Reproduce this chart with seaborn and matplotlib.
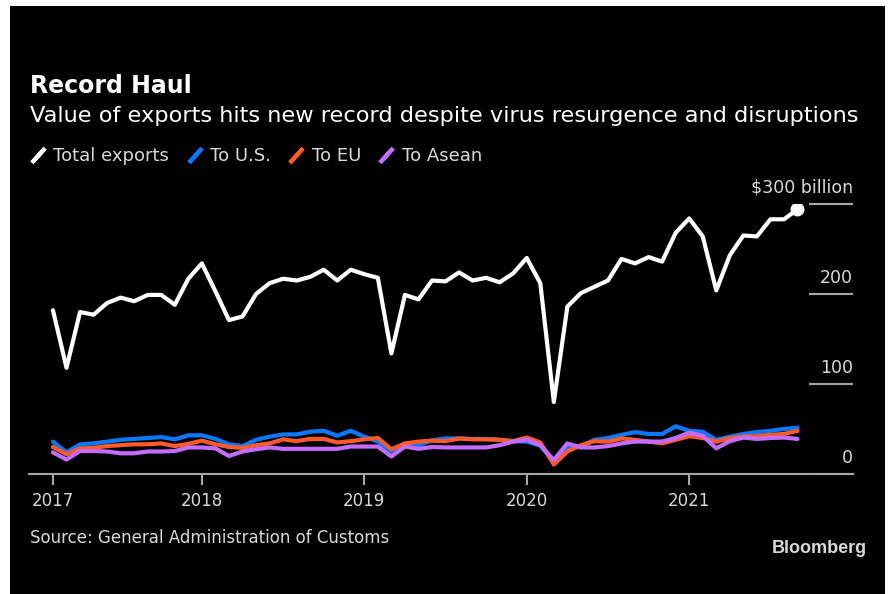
"""
Record Haul: China's monthly exports, total and by destination (Bloomberg style).
"""
import numpy as np
import pandas as pd
import matplotlib
matplotlib.use("Agg")
import matplotlib.pyplot as plt
from matplotlib.lines import Line2D
from matplotlib.patches import Rectangle
import seaborn as sns

# monthly values, Jan 2017 - Aug 2021, $ billion
total_exports = [182, 118, 180, 177, 190, 196, 192, 199, 199, 188, 217, 234,
                 203, 171, 175, 200, 212, 217, 215, 219, 227, 215, 227, 222,
                 218, 134, 199, 194, 215, 214, 224, 215, 218, 213, 223, 240,
                 212, 80, 186, 201, 208, 215, 239, 234, 241, 236, 268, 284,
                 264, 204, 243, 265, 264, 283, 283, 294]
to_us = [36, 24, 33, 34, 36, 38, 39, 40, 41, 38.5, 43, 43, 39, 33, 31,
         38, 41.5, 44, 44, 47, 48, 42.5, 48, 41.5, 36, 25, 33, 32, 37.5,
         39.5, 39.5, 39, 39, 38, 36.5, 36, 31.5, 14, 28.5, 30.5, 38, 40, 43.5,
         46.5, 44.5, 44.5, 53, 48, 47, 38, 41.5, 44.5, 46.5, 48, 50, 51.5]
to_eu = [30, 22, 28.5, 29, 31, 32, 33, 33, 34, 31, 33.5, 37, 33, 30, 29,
         32, 34, 38.5, 36.5, 39, 39, 35, 36.5, 38.5, 40, 27.5, 34, 36, 37,
         36.5, 39.5, 38.5, 38.5, 38, 36.5, 40.5, 35, 10.5, 25, 32, 36.5, 36, 39.5,
         38, 36, 34, 38, 42, 40, 36, 40, 41.5, 42, 43.5, 44.5, 48]
to_asean = [24, 16, 25.5, 25.5, 25, 23, 23, 25, 25, 25.5, 29.5, 29.5, 28.5, 20, 25,
            27.5, 29.5, 28, 28, 28, 28, 28, 30.5, 30.5, 30.5, 19.5, 30.5, 28, 30,
            29.5, 29.5, 29.5, 29.5, 32, 36, 38, 32, 15.5, 34, 29.5, 29.5, 31, 34,
            36, 36, 36, 40, 46, 42.5, 28.5, 36.5, 40.5, 39, 40, 40.5, 39]

series_names = ["Total exports", "To U.S.", "To EU", "To Asean"]
series_colors = ["#ffffff", "#0a78ff", "#ff5a28", "#c46cff"]

year_labels = ["2017", "2018", "2019", "2020", "2021"]
year_tick_months = [0, 11, 23, 35, 47]
y_ticks = [0, 100, 200, 300]
y_tick_labels = ["0", "100", "200", "$300 billion"]

TXT = "#d9d9d9"
AXIS = "#a6a6a6"

months = np.arange(len(total_exports))
df = pd.concat([
    pd.DataFrame({"month": months, "value": vals, "series": name})
    for name, vals in zip(series_names, [total_exports, to_us, to_eu, to_asean])
])

sns.set_style("dark")
plt.rcParams["font.family"] = ["DejaVu Sans"]

W, H = 889, 594
fig = plt.figure(figsize=(W / 100, H / 100), dpi=100, facecolor="white")
fig.patches.append(Rectangle((10 / W, 0), 875 / W, 588 / H, transform=fig.transFigure,
                             facecolor="black", edgecolor="none", zorder=-10))

ax = fig.add_axes([29 / W, 1 - 474 / H, (853 - 29) / W, (474 - 204) / H])
ax.set_facecolor("none")

sns.lineplot(data=df, x="month", y="value", hue="series", hue_order=series_names,
             palette=dict(zip(series_names, series_colors)), linewidth=3,
             legend=False, ax=ax)
ax.plot(months[-1], total_exports[-1], "o", color="white", markersize=9, zorder=5)

ax.set_xlim(-1.77, 59.1)
ax.set_ylim(0, 300)
ax.set_xlabel("")
ax.set_ylabel("")
for s in ["top", "left", "right"]:
    ax.spines[s].set_visible(False)
ax.spines["bottom"].set_color(AXIS)
ax.spines["bottom"].set_linewidth(1.5)

ax.set_xticks(year_tick_months)
ax.set_xticklabels(year_labels)
ax.tick_params(axis="x", bottom=True, direction="out", length=8, width=1.5,
               color=AXIS, labelcolor=TXT, labelsize=12, pad=5)

ax.set_yticks(y_ticks)
ax.yaxis.tick_right()
ax.tick_params(axis="y", right=True, direction="in", length=32, width=1.5,
               color=AXIS, labelright=False, labelleft=False)
for v, lab in zip(y_ticks, y_tick_labels):
    ax.annotate(lab, xy=(1, v), xycoords=ax.get_yaxis_transform(),
                xytext=(0, 8), textcoords="offset points",
                ha="right", va="baseline", color=TXT, fontsize=12.5)

handles = [Line2D([], [], linestyle="none", marker=(2, 2, -42), markersize=14,
                  markeredgewidth=3, color=c) for c in series_colors]
fig.legend(handles, series_names, loc="center left",
           bbox_to_anchor=(29 / W, 1 - 156 / H), ncol=4, frameon=False,
           handlelength=1.0, handletextpad=0.35, columnspacing=0.9,
           fontsize=13, labelcolor=TXT, borderpad=0, borderaxespad=0)

fig.text(30 / W, 1 - 93 / H, "Record Haul", fontsize=17, fontweight="bold",
         color="white", va="baseline")
fig.text(30 / W, 1 - 122 / H,
         "Value of exports hits new record despite virus resurgence and disruptions",
         fontsize=16.2, color="white", va="baseline")
fig.text(30 / W, 1 - 543 / H, "Source: General Administration of Customs",
         fontsize=12, color=TXT, va="baseline")
fig.text(867 / W, 1 - 553 / H, "Bloomberg", fontsize=13, fontweight="bold",
         family="Liberation Sans", color=TXT, ha="right", va="baseline")

fig.savefig("out.png", dpi=100, facecolor=fig.get_facecolor())
